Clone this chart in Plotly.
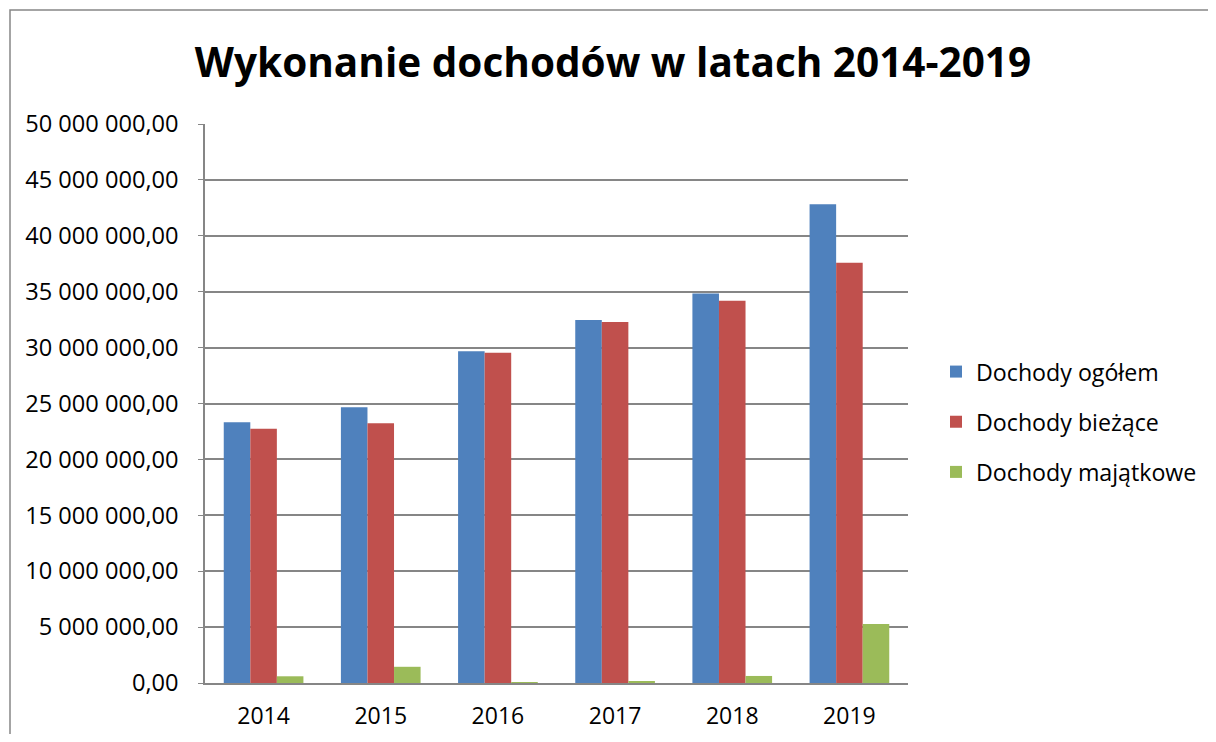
import plotly.graph_objects as go

years = ["2014", "2015", "2016", "2017", "2018", "2019"]
dochody_ogolem = [23.33e6, 24.67e6, 29.67e6, 32.47e6, 34.85e6, 42.83e6]
dochody_biezace = [22.74e6, 23.24e6, 29.55e6, 32.29e6, 34.20e6, 37.60e6]
dochody_majatkowe = [0.60e6, 1.45e6, 0.03e6, 0.18e6, 0.63e6, 5.27e6]

series_names = ["Dochody ogółem", "Dochody bieżące", "Dochody majątkowe"]
series_colors = ["#4F81BD", "#C0504D", "#9BBB59"]

tick_vals = [i * 5_000_000 for i in range(11)]
tick_text = ["0,00", "5 000 000,00", "10 000 000,00", "15 000 000,00", "20 000 000,00",
             "25 000 000,00", "30 000 000,00", "35 000 000,00", "40 000 000,00",
             "45 000 000,00", "50 000 000,00"]

FONT = "Open Sans"

fig = go.Figure()
for i, (name, vals, col) in enumerate(zip(series_names,
                                          [dochody_ogolem, dochody_biezace, dochody_majatkowe],
                                          series_colors)):
    fig.add_trace(go.Bar(x=years, y=vals, name=name, marker_color=col,
                         marker_line_width=0, legendgroup=str(i)))

# page has an 8px body margin; figure coordinates = page coordinates - 8
OFF = 8
W, H = 1216 - 2 * OFF, 742 - 2 * OFF
L, R, T, B = 205 - OFF, 908 - OFF, 124 - OFF, 683 - OFF

fig.update_layout(
    width=W, height=H,
    paper_bgcolor="white", plot_bgcolor="white",
    margin=dict(l=L, r=W - R, t=T, b=H - B, autoexpand=False),
    barmode="group", bargap=0.32, bargroupgap=0,
    title=dict(text="<b>Wykonanie dochodów w latach 2014-2019</b>",
               x=(613 - OFF) / W, xref="container", xanchor="center",
               y=1 - (63 - OFF) / H, yref="container", yanchor="middle",
               font=dict(family=FONT, size=40.5, color="black")),
    font=dict(family=FONT, color="black"),
    legend=dict(x=(936 - OFF - L) / (R - L), xanchor="left",
                y=(B - (422 - OFF)) / (B - T), yanchor="middle",
                font=dict(family=FONT, size=23.2, color="black"),
                traceorder="grouped", tracegroupgap=17, itemwidth=30,
                bgcolor="rgba(0,0,0,0)"),
)

fig.update_yaxes(range=[0, 50_000_000], tickvals=tick_vals, ticktext=tick_text,
                 showgrid=True, gridcolor="#868686", gridwidth=1.5,
                 showline=True, linecolor="#868686", linewidth=1.5,
                 ticks="outside", ticklen=5, tickcolor="#868686",
                 ticklabelstandoff=15,
                 tickfont=dict(family=FONT, size=23.6, color="black"),
                 zeroline=False, fixedrange=True)
fig.update_xaxes(showline=True, linecolor="#868686", linewidth=1.5,
                 ticks="", tickfont=dict(family=FONT, size=23, color="black"),
                 ticklabelstandoff=12, fixedrange=True)

# chart border
fig.add_shape(type="rect", xref="paper", yref="paper",
              x0=(10 - OFF - L) / (R - L), x1=(W + 20 - L) / (R - L),
              y0=(B - (H + 20)) / (B - T), y1=(B - (10 - OFF)) / (B - T),
              line=dict(color="#868686", width=1.5), fillcolor="rgba(0,0,0,0)", layer="below")

fig.write_html("out.html")
